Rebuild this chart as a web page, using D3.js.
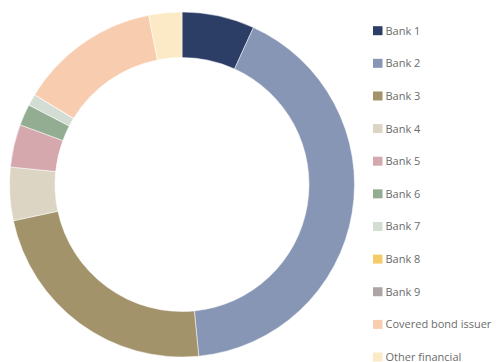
<!DOCTYPE html>
<html>
<head>
<meta charset="utf-8">
<script src="https://cdn.jsdelivr.net/npm/d3@7"></script>
<style>
  body { margin: 0; background: #fff; }
  svg { display: block; }
</style>
</head>
<body>
<svg id="chart" width="501" height="362"></svg>
<script>
var categories = ["Bank 1", "Bank 2", "Bank 3", "Bank 4", "Bank 5", "Bank 6", "Bank 7",
                  "Bank 8", "Bank 9", "Covered bond issuer", "Other financial"];
var shares = [6.8, 41.7, 23.2, 5.0, 4.0, 2.0, 1.1, 0, 0, 13.2, 3.1];
var colours = ["#2c3e66", "#8796b5", "#a3936a", "#ddd5c4", "#d5a8ae", "#92ad92", "#d3ddd4",
               "#f5cb6a", "#aba6a5", "#f8ccae", "#fbeac5"];

var svg = d3.select("#chart");
var cx = 182, cy = 184.5;

var pie = d3.pie().sort(null).value(function(d) { return d.v; });
var arc = d3.arc().innerRadius(127).outerRadius(172.5);

var rows = categories.map(function(c, i) { return {name: c, v: shares[i], col: colours[i]}; });

svg.append("g")
   .attr("transform", "translate(" + cx + "," + cy + ")")
   .selectAll("path")
   .data(pie(rows))
   .enter()
   .append("path")
   .attr("d", arc)
   .style("fill", function(d) { return d.data.col; })
   .style("stroke", "#fff")
   .style("stroke-width", 0.5);

var y = d3.scalePoint().domain(categories).range([30.7, 357]);

var leg = svg.append("g").selectAll("g")
   .data(rows)
   .enter()
   .append("g")
   .attr("transform", function(d) { return "translate(373," + y(d.name) + ")"; });

leg.append("rect")
   .attr("x", 0).attr("y", -4.5)
   .attr("width", 9.5).attr("height", 9)
   .style("fill", function(d) { return d.col; });

leg.append("text")
   .attr("x", 12.5).attr("y", 4)
   .style("font-family", "'Open Sans', sans-serif")
   .style("font-size", "11px")
   .style("fill", "#6b6b6b")
   .text(function(d) { return d.name; });
</script>
</body>
</html>
